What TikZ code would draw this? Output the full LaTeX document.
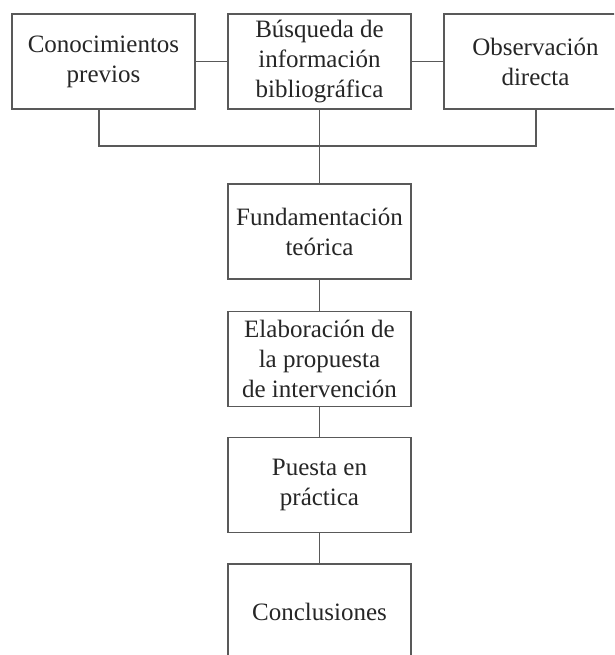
\documentclass[tikz,border=0pt]{standalone}
\usepackage{fontspec}
\setmainfont{Liberation Serif}
\begin{document}
\begin{tikzpicture}[x=1pt,y=-1pt,
  box/.style={draw=black!65, line width=1.3pt, minimum width=183pt, minimum height=95pt,
    align=center, inner sep=0pt, font=\fontsize{25}{30}\selectfont, text=black!85},
  link/.style={draw=black!65, line width=1.3pt}]
\useasboundingbox (0,0) rectangle (614,655);
\clip (0,0) rectangle (614,655);
\fill[white] (0,0) rectangle (614,655);
\node[box] (cp) at (103.5,61.5) {Conocimientos\\previos};
\node[box] (bib) at (319.5,61.5) {Búsqueda de\\información\\bibliográfica};
\node[box] (obs) at (535.5,61.5) {Observación\\directa};
\node[box] (fun) at (319.5,231.5) {Fundamentación\\teórica};
\node[box] (ela) at (319.5,359) {Elaboración de\\la propuesta\\de intervención};
\node[box] (pue) at (319.5,485) {Puesta en\\práctica};
\node[box] (con) at (319.5,611.5) {Conclusiones};
\coordinate (j1) at (99,146);
\coordinate (j3) at (536,146);
\draw[link] (cp) -- (bib);
\draw[link] (bib) -- (obs);
\draw[link] (cp.south -| j1) -- (j1) -- (j3) -- (obs.south -| j3);
\draw[link] (bib) -- (fun);
\draw[link] (fun) -- (ela);
\draw[link] (ela) -- (pue);
\draw[link] (pue) -- (con);
\end{tikzpicture}
\end{document}
